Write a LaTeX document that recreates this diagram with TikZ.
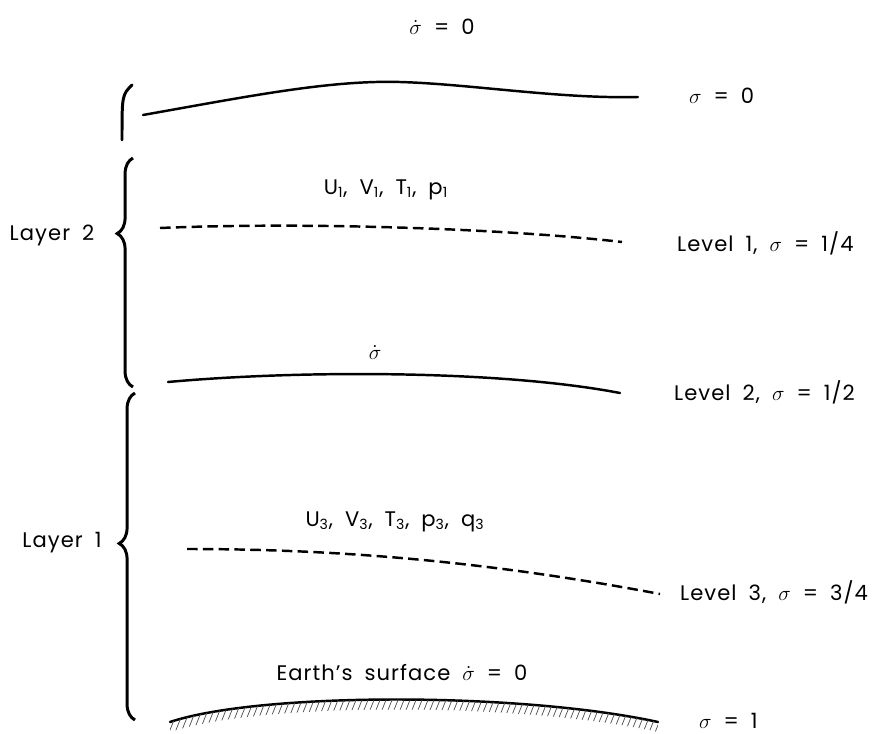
\documentclass[tikz,border=0pt]{standalone}
\usepackage{fontspec}
\setmainfont{Poppins}[LetterSpace=5,WordSpace=1.8]
\usetikzlibrary{decorations.pathreplacing}
\tikzset{
  lbl/.style={font=\fontsize{12}{14}\selectfont,inner sep=1pt},
  lbr/.style={lbl,anchor=west},
  lvl/.style={line width=1.4pt,line cap=round},
  lvldash/.style={line width=1.4pt,dash pattern=on 6pt off 3pt},
  brc/.style={decorate,decoration={brace,amplitude=9pt,aspect=#1},line width=1.7pt},
  brc/.default=0.5,
  hatch/.style={line width=0.4pt,black!70},
}

\begin{document}
\begin{tikzpicture}[x=0.02cm,y=-0.02cm]
  \useasboundingbox (0,0) rectangle (880,734);
  % level end points
  \coordinate (top0) at (143,115);  \coordinate (top1) at (638,97);
  \coordinate (lv10) at (160,228);  \coordinate (lv11) at (622,242);
  \coordinate (lv20) at (168,382);  \coordinate (lv21) at (620,393);
  \coordinate (lv30) at (187,549);  \coordinate (lv31) at (660,594);
  \coordinate (srf0) at (170,722);  \coordinate (srf1) at (658,722);
  % brace ends
  \coordinate (b0top) at (132,85);  \coordinate (b0bot) at (122,140);
  \coordinate (b2top) at (133,158); \coordinate (b2bot) at (133,387);
  \coordinate (b1top) at (135,393); \coordinate (b1bot) at (135,720);
  % labels
  \node[lbl] (sdtop) at (442,27) {$\dot\sigma$ = 0};
  \node[lbr] (sig0) at (687,96) {$\sigma$ = 0};
  \node[lbl] (vars1) at (386,190) {U\textsubscript{1}, V\textsubscript{1}, T\textsubscript{1}, p\textsubscript{1}};
  \node[lbr] (lev1) at (675,243) {Level 1, $\sigma$ = 1/4};
  \node[lbl] (sdmid) at (375,352) {$\dot\sigma$};
  \node[lbr] (lev2) at (672,392) {Level 2, $\sigma$ = 1/2};
  \node[lbl] (vars3) at (395,522) {U\textsubscript{3}, V\textsubscript{3}, T\textsubscript{3}, p\textsubscript{3}, q\textsubscript{3}};
  \node[lbr] (lev3) at (678,592) {Level 3, $\sigma$ = 3/4};
  \node[lbl] (earth) at (402,673) {Earth's surface $\dot\sigma$ = 0};
  \node[lbr] (sig1) at (697,721) {$\sigma$ = 1};
  \node[lbl] (lay2) at (52,235) {Layer 2};
  \node[lbl] (lay1) at (62,543) {Layer 1};
  % levels
  \draw[lvl] (top0) .. controls (250,96) and (330,80) .. (400,82)
                    .. controls (470,84) and (560,99) .. (top1);
  \draw[lvldash] (lv10) .. controls (300,222) and (500,228) .. (lv11);
  \draw[lvl] (lv20) .. controls (300,370) and (500,370) .. (lv21);
  \draw[lvldash] (lv30) .. controls (330,549) and (480,560) .. (lv31);
  \draw[lvl] (srf0) .. controls (260,692) and (520,692) .. (srf1);
  \begin{scope}
    \clip (srf0) .. controls (260,692) and (520,692) .. (srf1)
          -- (658,732) .. controls (520,702) and (260,702) .. (170,732) -- cycle;
    \foreach \x in {130,136,...,670}
      \draw[hatch] (\x,740) -- ++(20,-50);
  \end{scope}
  % braces
  \draw[lvl,line width=1.7pt] (b0top) .. controls (122,95) .. (b0bot);
  \draw[brc=0.67] (b2bot) -- (b2top);
  \draw[brc=0.54] (b1bot) -- (b1top);
\end{tikzpicture}
\end{document}
